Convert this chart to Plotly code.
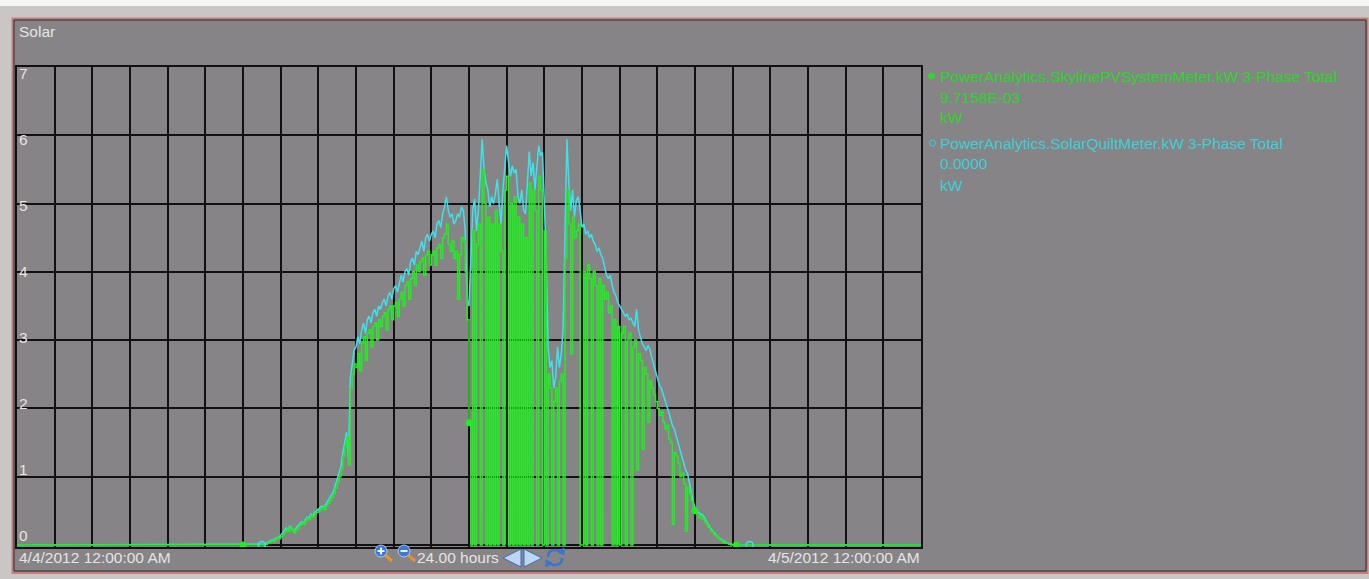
import pandas as pd
import plotly.graph_objects as go

# ---------------- data ----------------
title_text = "Solar"
series_names = ["PowerAnalytics.SkylinePVSystemMeter.kW 3-Phase Total",
                "PowerAnalytics.SolarQuiltMeter.kW 3-Phase Total"]
series_current = ["9.7158E-03", "0.0000"]
series_units = ["kW", "kW"]
y_tick_values = [0, 1, 2, 3, 4, 5, 6, 7]
y_tick_labels = ["0", "1", "2", "3", "4", "5", "6", "7"]
start_label = "4/4/2012 12:00:00 AM"
end_label = "4/5/2012 12:00:00 AM"
span_label = "24.00 hours"

day_start = "2012-04-04 00:00"
day_end = "2012-04-05 00:00"
sample_start = "2012-04-04 06:00"
sample_step = "3min"
night_kw = 0.0

# 3-minute samples, 06:00 .. 19:30
skyline_kw = [
    # 06
    0, 0, 0, 0, 0, 0, 0, 0, 0, 0, 0, 0, 0.01, 0.03, 0.04, 0.06, 0.05, 0.08, 0.10, 0.09,
    # 07
    0.12, 0.15, 0.19, 0.23, 0.20, 0.26, 0.21, 0.18, 0.22, 0.25, 0.29, 0.32, 0.30, 0.35, 0.39, 0.37, 0.43, 0.41, 0.46, 0.48,
    # 08
    0.50, 0.52, 0.55, 0.52, 0.57, 0.61, 0.65, 0.70, 0.75, 0.83, 0.92, 1.00, 1.10, 1.30, 1.45, 1.58, 1.17, 2.30, 2.50, 2.65,
    # 09
    2.60, 2.80, 2.55, 2.95, 3.05, 2.70, 3.10, 3.15, 2.90, 3.20, 3.25, 3.00, 3.30, 3.20, 3.35, 3.40, 3.15, 3.45, 3.50, 3.30,
    # 10
    3.50, 3.55, 3.35, 3.60, 3.70, 3.50, 3.80, 3.85, 3.60, 3.90, 4.00, 3.80, 4.10, 4.00, 4.15, 4.20, 3.95, 4.25, 4.30, 4.10,
    # 11
    4.25, 4.30, 4.10, 4.35, 4.40, 4.20, 4.50, 4.55, 4.70, 4.40, 4.30, 4.45, 4.20, 4.30, 3.60, 4.25, 4.50, 4.45, 4.00, 3.30,
    # 12
    1.79, 0, 4.60, 0, 4.40, 4.70, 0, 5.50, 5.00, 0, 4.80, 0, 4.70, 0, 4.90, 0, 4.70, 4.30, 0, 5.20,
    # 13
    5.40, 0, 5.00, 0, 5.10, 0, 4.80, 0, 4.70, 0, 4.50, 0, 5.30, 0, 5.20, 4.90, 0, 5.40, 5.20, 0,
    # 14
    4.60, 0, 2.50, 2.30, 0, 2.10, 2.30, 0, 2.40, 2.50, 0, 4.20, 5.20, 4.70, 2.80, 4.80, 4.50, 4.60, 4.70, 0,
    # 15
    0, 4.00, 0, 4.10, 3.90, 0, 4.00, 3.80, 0, 3.90, 0, 3.80, 3.60, 3.70, 3.40, 3.50, 0, 3.30, 0, 3.20,
    # 16
    0, 3.10, 3.20, 0, 3.00, 3.10, 0, 2.90, 3.00, 1.10, 2.80, 2.70, 1.40, 2.60, 2.50, 1.80, 2.40, 2.30, 2.20, 2.10,
    # 17
    2.00, 1.90, 1.95, 1.80, 1.70, 1.75, 1.55, 1.50, 0.30, 1.35, 1.30, 1.20, 1.00, 1.05, 0.90, 0.20, 0.85, 0.75, 0.65, 0.55,
    # 18
    0.50, 0.45, 0.40, 0.42, 0.38, 0.34, 0.30, 0.26, 0.22, 0.19, 0.15, 0.13, 0.10, 0.08, 0.06, 0.04, 0.03, 0.02, 0.01, 0,
    # 19:00 .. 19:30
    0, 0, 0, 0, 0, 0, 0, 0, 0, 0, 0,
]

quilt_kw = [
    # 06
    0, 0, 0, 0, 0, 0, 0, 0, 0, 0, 0, 0.01, 0.02, 0.04, 0.05, 0.07, 0.07, 0.09, 0.11, 0.11,
    # 07
    0.14, 0.17, 0.21, 0.25, 0.22, 0.28, 0.23, 0.20, 0.24, 0.27, 0.31, 0.34, 0.32, 0.37, 0.41, 0.39, 0.45, 0.43, 0.48, 0.50,
    # 08
    0.52, 0.54, 0.57, 0.55, 0.60, 0.64, 0.68, 0.73, 0.78, 0.87, 0.96, 1.05, 1.15, 1.35, 1.52, 1.65, 1.25, 2.45, 2.65, 2.85,
    # 09
    2.90, 3.05, 2.95, 3.15, 3.25, 3.10, 3.30, 3.35, 3.25, 3.40, 3.45, 3.35, 3.50, 3.45, 3.55, 3.60, 3.50, 3.65, 3.70, 3.60,
    # 10
    3.75, 3.80, 3.70, 3.85, 3.95, 3.85, 4.00, 4.05, 3.95, 4.15, 4.20, 4.10, 4.30, 4.25, 4.35, 4.45, 4.30, 4.50, 4.55, 4.45,
    # 11
    4.55, 4.60, 4.50, 4.70, 4.75, 4.65, 4.85, 4.95, 5.10, 4.90, 4.80, 4.85, 4.70, 4.75, 4.85, 4.80, 4.95, 4.90, 4.60, 3.60,
    # 12
    3.50, 4.20, 4.90, 5.07, 4.60, 4.90, 5.40, 5.94, 5.50, 5.30, 5.20, 4.95, 5.10, 5.00, 5.15, 5.36, 5.00, 4.70, 5.20, 5.60,
    # 13
    5.85, 5.60, 5.40, 5.55, 5.45, 5.50, 5.10, 5.00, 5.20, 4.90, 4.85, 5.30, 5.76, 5.40, 5.60, 5.20, 5.50, 5.85, 5.70, 5.75,
    # 14
    5.00, 4.20, 2.90, 2.60, 2.70, 2.30, 2.45, 2.90, 2.60, 2.80, 3.20, 4.60, 5.94, 5.30, 4.90, 5.20, 4.80, 5.05, 5.10, 4.90,
    # 15
    4.65, 4.70, 4.55, 4.60, 4.50, 4.55, 4.45, 4.40, 4.30, 4.35, 4.25, 4.20, 4.05, 3.95, 3.90, 3.95, 3.80, 3.70, 3.65, 3.55,
    # 16
    3.50, 3.45, 3.40, 3.35, 3.38, 3.30, 3.32, 3.25, 3.20, 3.45, 3.15, 3.05, 2.95, 2.90, 2.85, 2.92, 2.87, 2.75, 2.65, 2.55,
    # 17
    2.45, 2.35, 2.30, 2.20, 2.10, 2.04, 1.95, 1.85, 1.75, 1.70, 1.60, 1.50, 1.40, 1.30, 1.20, 1.10, 1.05, 0.90, 0.75, 0.64,
    # 18
    0.55, 0.50, 0.47, 0.45, 0.44, 0.40, 0.34, 0.30, 0.26, 0.22, 0.18, 0.16, 0.12, 0.10, 0.08, 0.06, 0.04, 0.03, 0.02, 0.01,
    # 19:00 .. 19:30
    0, 0, 0, 0, 0, 0, 0, 0, 0, 0, 0,
]

skyline_marker_times = ["2012-04-04 06:00", "2012-04-04 12:00", "2012-04-04 18:00", "2012-04-04 19:06"]
quilt_marker_times = ["2012-04-04 06:30", "2012-04-04 19:27"]

# ---------------- build series ----------------
sample_times = pd.date_range(sample_start, periods=len(skyline_kw), freq=sample_step)
times = [pd.Timestamp(day_start)] + list(sample_times) + [pd.Timestamp(day_end)]
sky = pd.Series([night_kw] + skyline_kw + [night_kw], index=times)
qui = pd.Series([night_kw] + quilt_kw + [night_kw], index=times)
sky_m = sky.loc[[pd.Timestamp(t) for t in skyline_marker_times]]
qui_m = qui.loc[[pd.Timestamp(t) for t in quilt_marker_times]]

# ---------------- style ----------------
W, H = 1369, 579
PL, PR, PT, PB = 17, 921, 67, 547
GREEN = "#22ec22"
CYAN = "#3ce2ea"
GREEN_TXT = "#2ed62e"
CYAN_TXT = "#3ad0d8"
LABEL = "#e4e4e4"
PANEL = "#868486"
FONT = "Liberation Sans, Arial, sans-serif"
FS = 15.5


def fx(px):
    return (px - PL) / (PR - PL)


def fy(py):
    return (PB - py) / (PB - PT)


fig = go.Figure()
fig.add_trace(go.Scatter(x=qui.index, y=qui.values, mode="lines",
                         line=dict(color=CYAN, width=1.5), hoverinfo="skip"))
fig.add_trace(go.Scatter(x=sky.index, y=sky.values, mode="lines", line_shape="hv",
                         line=dict(color=GREEN, width=1.5), hoverinfo="skip"))
fig.add_trace(go.Scatter(x=qui_m.index, y=qui_m.values, mode="markers", cliponaxis=False,
                         marker=dict(symbol="circle-open", size=7, color=CYAN, line=dict(width=1.5)),
                         hoverinfo="skip"))
fig.add_trace(go.Scatter(x=sky_m.index, y=sky_m.values, mode="markers", cliponaxis=False,
                         marker=dict(symbol="circle", size=7, color=GREEN), hoverinfo="skip"))

shapes = []
# light strip at the very top
shapes.append(dict(type="rect", xref="paper", yref="paper", layer="below",
                   x0=fx(0), x1=fx(W), y0=fy(0), y1=fy(6), fillcolor="#f6f6f6", line=dict(width=0)))
# panel
shapes.append(dict(type="rect", xref="paper", yref="paper", layer="below",
                   x0=fx(12.5), x1=fx(1367.5), y0=fy(18.5), y1=fy(573), fillcolor=PANEL,
                   line=dict(color="#c47e80", width=2)))
shapes.append(dict(type="rect", xref="paper", yref="paper", layer="below",
                   x0=fx(14), x1=fx(1366), y0=fy(20), y1=fy(571),
                   line=dict(color="#3c2424", width=1)))

# legend symbols
shapes.append(dict(type="circle", xref="paper", yref="paper",
                   x0=fx(928.5), x1=fx(934.5), y0=fy(73), y1=fy(79), fillcolor=GREEN_TXT,
                   line=dict(color=GREEN_TXT, width=1)))
shapes.append(dict(type="circle", xref="paper", yref="paper",
                   x0=fx(929.5), x1=fx(935.5), y0=fy(140), y1=fy(146),
                   line=dict(color=CYAN_TXT, width=1)))

# zoom-in / zoom-out magnifiers
for cx, minus in [(381, False), (404, True)]:
    cy = 551
    shapes.append(dict(type="line", xref="paper", yref="paper",
                       x0=fx(cx + 3), y0=fy(cy + 3), x1=fx(cx + 11), y1=fy(cy + 10),
                       line=dict(color="#e8922c", width=3)))
    shapes.append(dict(type="circle", xref="paper", yref="paper",
                       x0=fx(cx - 6), x1=fx(cx + 6), y0=fy(cy - 6), y1=fy(cy + 6),
                       fillcolor="#3f78d4", line=dict(color="#a9c6ee", width=1)))
    shapes.append(dict(type="line", xref="paper", yref="paper",
                       x0=fx(cx - 3.5), x1=fx(cx + 3.5), y0=fy(cy), y1=fy(cy),
                       line=dict(color="white", width=1.8)))
    if not minus:
        shapes.append(dict(type="line", xref="paper", yref="paper",
                           x0=fx(cx), x1=fx(cx), y0=fy(cy - 3.5), y1=fy(cy + 3.5),
                           line=dict(color="white", width=1.8)))

# back / forward arrows
shapes.append(dict(type="path", xref="paper", yref="paper",
                   path=f"M {fx(503)} {fy(558)} L {fx(521)} {fy(549)} L {fx(521)} {fy(567)} Z",
                   fillcolor="#bcd6f4", line=dict(color="#3d6cbc", width=1)))
shapes.append(dict(type="path", xref="paper", yref="paper",
                   path=f"M {fx(524)} {fy(549)} L {fx(542)} {fy(558)} L {fx(524)} {fy(567)} Z",
                   fillcolor="#bcd6f4", line=dict(color="#3d6cbc", width=1)))
# refresh icon
shapes.append(dict(type="path", xref="paper", yref="paper",
                   path=(f"M {fx(548)} {fy(557)} Q {fx(548)} {fy(550)} {fx(555)} {fy(550)} "
                         f"Q {fx(559)} {fy(550)} {fx(561)} {fy(553)}"),
                   line=dict(color="#3a74d0", width=2.5)))
shapes.append(dict(type="path", xref="paper", yref="paper",
                   path=(f"M {fx(562)} {fy(558)} Q {fx(562)} {fy(565)} {fx(555)} {fy(565)} "
                         f"Q {fx(551)} {fy(565)} {fx(549)} {fy(562)}"),
                   line=dict(color="#3a74d0", width=2.5)))
shapes.append(dict(type="path", xref="paper", yref="paper",
                   path=f"M {fx(558)} {fy(552)} L {fx(564)} {fy(548)} L {fx(564)} {fy(555)} Z",
                   fillcolor="#3a74d0", line=dict(color="#3a74d0", width=1)))
shapes.append(dict(type="path", xref="paper", yref="paper",
                   path=f"M {fx(552)} {fy(563)} L {fx(546)} {fy(567)} L {fx(546)} {fy(560)} Z",
                   fillcolor="#3a74d0", line=dict(color="#3a74d0", width=1)))

annotations = []


def label(px, py, text, color=LABEL, xanchor="left", size=FS):
    annotations.append(dict(xref="paper", yref="paper", x=fx(px), y=fy(py), text=text,
                            showarrow=False, xanchor=xanchor, yanchor="middle",
                            font=dict(family=FONT, size=size, color=color)))


label(17, 31, title_text)

# y-axis labels (drawn inside the plot, at the left edge)
label_top, label_bottom = 74, 535
for v, t in zip(y_tick_values, y_tick_labels):
    py = label_bottom - (label_bottom - label_top) * v / 7
    label(17, py, t)

# legend block
label(938, 76, series_names[0], GREEN_TXT)
label(938, 97, series_current[0], GREEN_TXT)
label(938, 118, series_units[0], GREEN_TXT)
label(938, 143, series_names[1], CYAN_TXT)
label(938, 164, series_current[1], CYAN_TXT)
label(938, 185, series_units[1], CYAN_TXT)

# bottom labels
label(17, 557, start_label)
label(922, 557, end_label, xanchor="right")
label(415, 557, span_label)

fig.update_layout(
    width=W, height=H, autosize=False,
    margin=dict(l=PL, r=W - PR, t=PT, b=H - PB, pad=0),
    paper_bgcolor="#cac6c6",
    plot_bgcolor="rgba(0,0,0,0)",
    showlegend=False,
    shapes=shapes,
    annotations=annotations,
    xaxis=dict(range=[day_start, day_end], type="date", dtick=3600000, showgrid=True,
               gridcolor="#111111", gridwidth=2, showticklabels=False, ticks="",
               showline=True, linecolor="#111111", linewidth=2, mirror=True, zeroline=False,
               fixedrange=True),
    yaxis=dict(range=[-0.03, 7], dtick=1, tick0=0, showgrid=True, gridcolor="#111111",
               gridwidth=2, showticklabels=False, ticks="", showline=True,
               linecolor="#111111", linewidth=2, mirror=True, zeroline=False, fixedrange=True),
)

fig.write_html("out.html", config={"displayModeBar": False},
               post_script="document.body.style.margin='0';document.body.style.overflow='hidden';")
